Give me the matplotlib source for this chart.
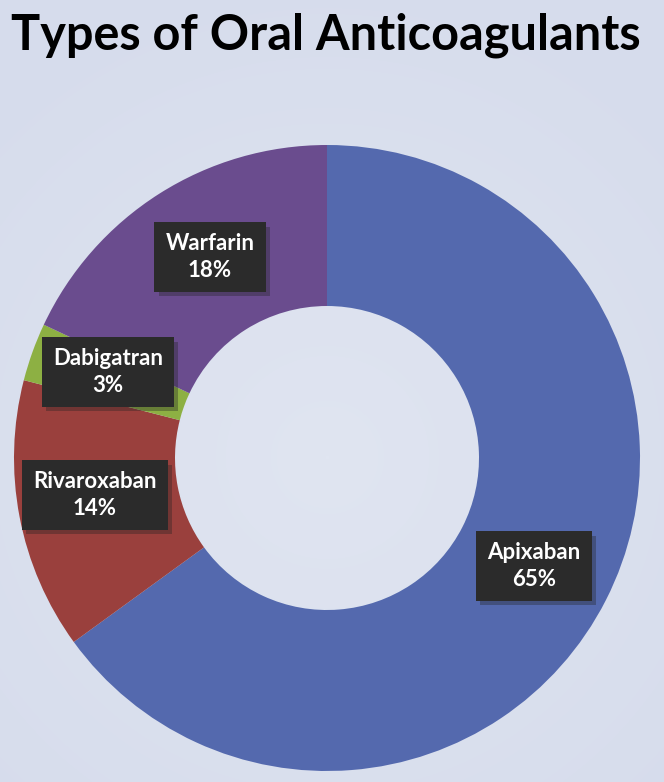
import numpy as np
import matplotlib.pyplot as plt
import matplotlib.patheffects as pe
from matplotlib.colors import LinearSegmentedColormap

# data
drugs = ["Apixaban", "Rivaroxaban", "Dabigatran", "Warfarin"]
shares = [65, 14, 3, 18]
colors = ["#5469AE", "#9A403D", "#8DB043", "#6A4C8E"]

# where the label boxes sit (pixel coords, y from bottom)
label_xy = [(534, 216), (95, 287), (108, 410), (210, 525)]

W, H = 664, 782
fig = plt.figure(figsize=(W / 100, H / 100), dpi=100)
fig.patch.set_facecolor("#D9DFEE")
ax = fig.add_axes([0, 0, 1, 1])

# soft radial glow like the original background
yy, xx = np.mgrid[0:H, 0:W]
d = np.clip(np.sqrt((xx - 327) ** 2 + (yy - 324) ** 2) / 500, 0, 1)
ax.imshow(d, extent=(0, W, 0, H), origin="lower",
          cmap=LinearSegmentedColormap.from_list("bg", ["#E0E5F1", "#D6DCEC"]), zorder=0)

ax.pie(shares, colors=colors, startangle=90, counterclock=False,
       center=(327, 324), radius=313, frame=True,
       wedgeprops=dict(width=161, linewidth=0))
ax.set_xlim(0, W)
ax.set_ylim(0, H)
ax.set_aspect("equal")
ax.axis("off")

for name, val, (x, y) in zip(drugs, shares, label_xy):
    t = ax.text(x, y, f"{name}\n{val}%", ha="center", va="center",
                fontsize=16, fontweight="bold", color="white",
                family="Lato", linespacing=1.3,
                bbox=dict(boxstyle="square,pad=0.5", fc="#2B2B2B", ec="none"),
                zorder=5)
    t.get_bbox_patch().set_path_effects([
        pe.SimplePatchShadow(offset=(3, -3), shadow_rgbFace="#222222", alpha=0.35),
        pe.Normal()])

fig.text(0.49, 0.955, "Types of Oral Anticoagulants", ha="center", va="center",
         fontsize=35, fontweight="bold", family="Lato", color="black")

fig.savefig("out.png", dpi=100, facecolor=fig.get_facecolor())
